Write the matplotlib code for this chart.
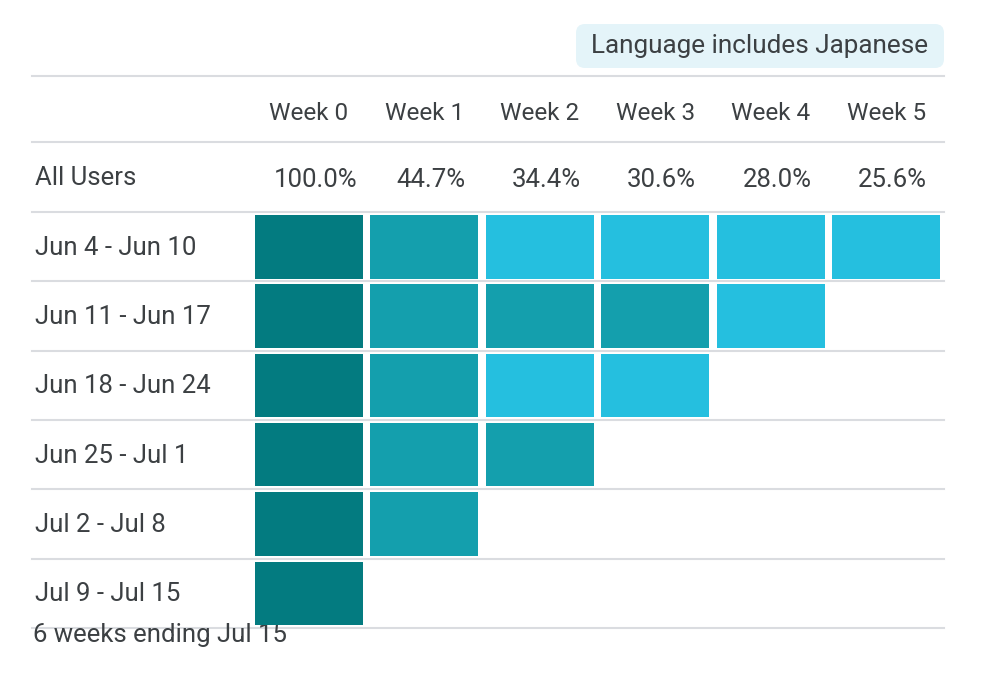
import matplotlib
matplotlib.use("Agg")
import matplotlib.pyplot as plt
from matplotlib.colors import ListedColormap, BoundaryNorm
from matplotlib.patches import Rectangle, FancyBboxPatch

plt.rcParams['font.family'] = ['Roboto', 'DejaVu Sans']

# data
weeks = ["Week 0", "Week 1", "Week 2", "Week 3", "Week 4", "Week 5"]
all_users = [100.0, 44.7, 34.4, 30.6, 28.0, 25.6]
cohorts = ["Jun 4 - Jun 10", "Jun 11 - Jun 17", "Jun 18 - Jun 24",
           "Jun 25 - Jul 1", "Jul 2 - Jul 8", "Jul 9 - Jul 15"]
# retention per cohort (estimated from colour bands)
retention = [
    [100.0, 42.0, 30.0, 27.5, 27.5, 25.6],
    [100.0, 46.0, 40.0, 36.3, 28.5],
    [100.0, 44.0, 29.6, 28.0],
    [100.0, 47.0, 38.0],
    [100.0, 44.5],
    [100.0],
]
filter_label = "Language includes Japanese"
footer = "6 weeks ending Jul 15"

cmap = ListedColormap(["#25bfdf", "#149fad", "#037b80"])
norm = BoundaryNorm([0, 33, 99.9, 101], cmap.N)

txt = "#3c4043"
grid = "#dadce0"

W, H = 996, 680
fig = plt.figure(figsize=(W / 100, H / 100), dpi=100)

# background axes in pixel units for lines and labels
bg = fig.add_axes([0, 0, 1, 1])
bg.set_xlim(0, W)
bg.set_ylim(H, 0)
bg.axis("off")

x0, x1 = 251, 944
top_row = 212
row_h = 69.3
n = len(cohorts)

# heatmap axes
ax = fig.add_axes([x0 / W, 1 - (top_row + n * row_h) / H,
                   (x1 - x0) / W, n * row_h / H])
ax.set_xlim(-0.5, len(weeks) - 0.5)
ax.set_ylim(n - 0.5, -0.5)
ax.axis("off")

for i, row in enumerate(retention):
    for j, v in enumerate(row):
        ax.add_patch(Rectangle((j - 0.468, i - 0.455), 0.936, 0.915,
                               facecolor=cmap(norm(v)), edgecolor="none"))

col_w = (x1 - x0) / len(weeks)
col_x = [x0 + col_w * (j + 0.5) for j in range(len(weeks))]

# horizontal rules
for y in [76, 142] + [top_row + row_h * k for k in range(n + 1)]:
    bg.plot([32, 944], [y, y], color=grid, lw=1.5, zorder=1)

# filter badge
bg.add_patch(FancyBboxPatch((576, 24), 368, 44,
                            boxstyle="round,pad=0,rounding_size=9",
                            facecolor="#e4f4f9", edgecolor="none"))
bg.text(760, 46, filter_label, ha="center", va="center", fontsize=18.8, color=txt)

for j, w in enumerate(weeks):
    bg.text(col_x[j], 113, w, ha="center", va="center", fontsize=17.5, color=txt)
    bg.text(col_x[j] + 6.5, 180, f"{all_users[j]:.1f}%", ha="center", va="center",
            fontsize=18.5, color=txt)

bg.text(35, 178, "All Users", ha="left", va="center", fontsize=18.5, color=txt)
for i, c in enumerate(cohorts):
    bg.text(35, top_row + row_h * (i + 0.5) + 1, c, ha="left", va="center",
            fontsize=18.5, color=txt)

bg.text(33, 635, footer, ha="left", va="center", fontsize=18.5, color=txt, zorder=5)

fig.savefig("out.png", dpi=100, facecolor="white")
